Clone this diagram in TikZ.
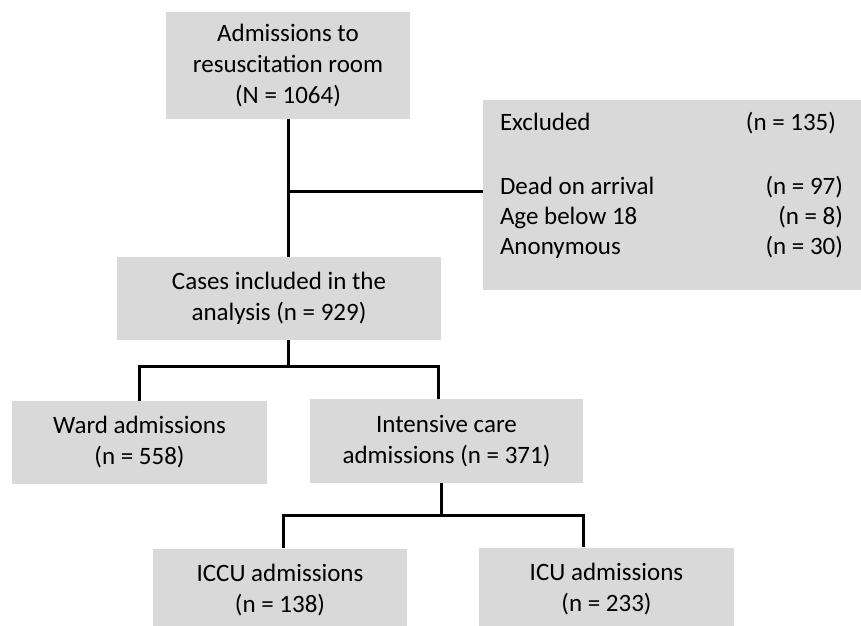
\documentclass[tikz,border=0pt]{standalone}
\usepackage{fontspec}
\setmainfont{Carlito}
\usetikzlibrary{positioning}
\definecolor{boxgray}{RGB}{217,217,217}

\begin{document}
\begin{tikzpicture}[x=1pt, y=-1pt,
            box/.style={fill=boxgray, inner sep=0pt, align=center,
                        font=\fontsize{25}{31}\selectfont},
            link/.style={line width=3pt}]

            \useasboundingbox (0,0) rectangle (861,625);

            % boxes
            \node[box, minimum width=244pt, minimum height=107pt] (adm) at (288,65.5)
            {Admissions to\\resuscitation room\\(N = 1064)};
            \node[box, minimum width=378pt, minimum height=190pt] (excl) at (672,195) {};
            \node[font=\fontsize{25}{30}\selectfont, inner sep=0pt] (excltxt) at (671.5,186)
            {
                \begin{tabular*}{343pt}{@{}l@{\extracolsep{\fill}}r@{}}
                    Excluded & (n = 135)\hspace*{7pt}\\[34pt]
                    Dead on arrival & (n = 97)\\
                    Age below 18 & (n = 8)\\
                    Anonymous & (n = 30)
                \end{tabular*}
            };
            \node[box, minimum width=324pt, minimum height=83pt] (cases) at (279,298.5)
            {Cases included in the\\analysis (n = 929)};
            \node[box, minimum width=255pt, minimum height=83pt] (ward) at (139.5,442.5)
            {Ward admissions\\(n = 558)};
            \node[box, minimum width=273pt, minimum height=84pt] (icare) at (446.5,441)
            {Intensive care\\admissions (n = 371)};
            \node[box, minimum width=254pt, minimum height=83pt] (iccu) at (280,590)
            {ICCU admissions\\(n = 138)};
            \node[box, minimum width=255pt, minimum height=83pt] (icu) at (606.5,589)
            {ICU admissions\\(n = 233)};

            % connectors
            \coordinate (split) at (288,191);
            \coordinate (fork1) at (288,366);
            \coordinate (fork2) at (441,515);
            \draw[link] (adm.south) -- (adm.south |- cases.north);
            \draw[link] (split) -- (split -| excl.west);
            \draw[link] (adm.south |- cases.south) -- (fork1);
            \draw[link] (ward.north) |- (fork1) -| ([xshift=-8.5pt]icare.north);
            \draw[link] ([xshift=-5.5pt]icare.south) -- (fork2);
            \draw[link] ([xshift=3pt]iccu.north) |- (fork2) -| ([xshift=-23.5pt]icu.north);
\end{tikzpicture}
\end{document}
